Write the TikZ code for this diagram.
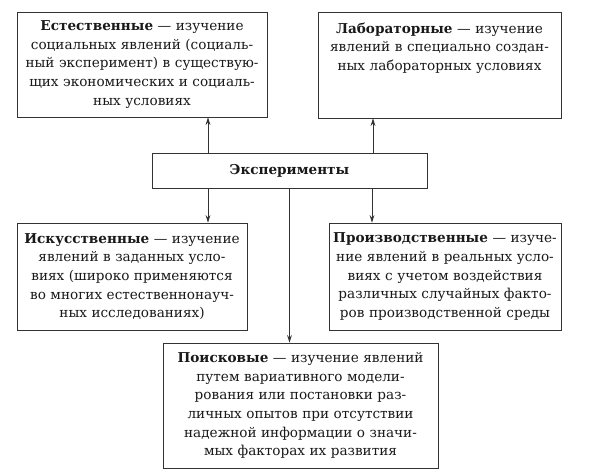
\documentclass[tikz,border=0pt]{standalone}
\usepackage{fontspec}
\setmainfont{DejaVu Serif}
\usetikzlibrary{positioning,arrows.meta}

\begin{document}
\begin{tikzpicture}[x=1pt, y=-1pt,
  every node/.style={font=\fontsize{13.6}{18.6}\selectfont, text=black!90},
  kindbox/.style={draw=black!80, line width=0.8pt, fill=white, align=center, inner sep=4pt},
  arr/.style={draw=black!80, line width=0.8pt, -{Stealth[length=7.5pt, width=4.8pt]}}]
\useasboundingbox (0,0) rectangle (596,475);

% central node
\node[kindbox, minimum width=275pt, minimum height=35pt] (exp) at (289.5,170.5) {\textbf{Эксперименты}};

% upper row
\node[kindbox, text width=242pt, minimum height=105pt] (nat) at (142,64.5)
  {\textbf{Естественные} — изучение\\ социальных явлений (социаль-\\ный эксперимент) в существую-\\щих экономических и социаль-\\ных условиях};
\node[kindbox, text width=235pt, text height=17pt, text depth=81pt] (lab) at (439.5,65)
  {\textbf{Лабораторные} — изучение\\ явлений в специально создан-\\ных лабораторных условиях};

% lower row
\node[kindbox, text width=222pt, minimum height=107pt] (art) at (132,276.5)
  {\textbf{Искусственные} — изучение\\ явлений в заданных усло-\\виях (широко применяются\\ во многих естественнонауч-\\ных исследованиях)};
\node[kindbox, text width=224pt, minimum height=107pt] (prod) at (445,276.5)
  {\textbf{Производственные} — изуче-\\ние явлений в реальных усло-\\виях с учетом воздействия\\ различных случайных факто-\\ров производственной среды};
\node[kindbox, text width=267pt, minimum height=125pt] (search) at (300.5,405.5)
  {\textbf{Поисковые} — изучение явлений\\ путем вариативного модели-\\рования или постановки раз-\\личных опытов при отсутствии\\ надежной информации о значи-\\мых факторах их развития};

% connectors
\draw[arr] ([xshift=-81.5pt]exp.north) -- ([xshift=-81.5pt]exp.north |- nat.south);
\draw[arr] ([xshift=83.5pt]exp.north) -- ([xshift=83.5pt]exp.north |- lab.south);
\draw[arr] ([xshift=-81.5pt]exp.south) -- ([xshift=-81.5pt]exp.south |- art.north);
\draw[arr] ([xshift=82.5pt]exp.south) -- ([xshift=82.5pt]exp.south |- prod.north);
\draw[arr] (exp.south) -- (exp.south |- search.north);
\end{tikzpicture}
\end{document}
